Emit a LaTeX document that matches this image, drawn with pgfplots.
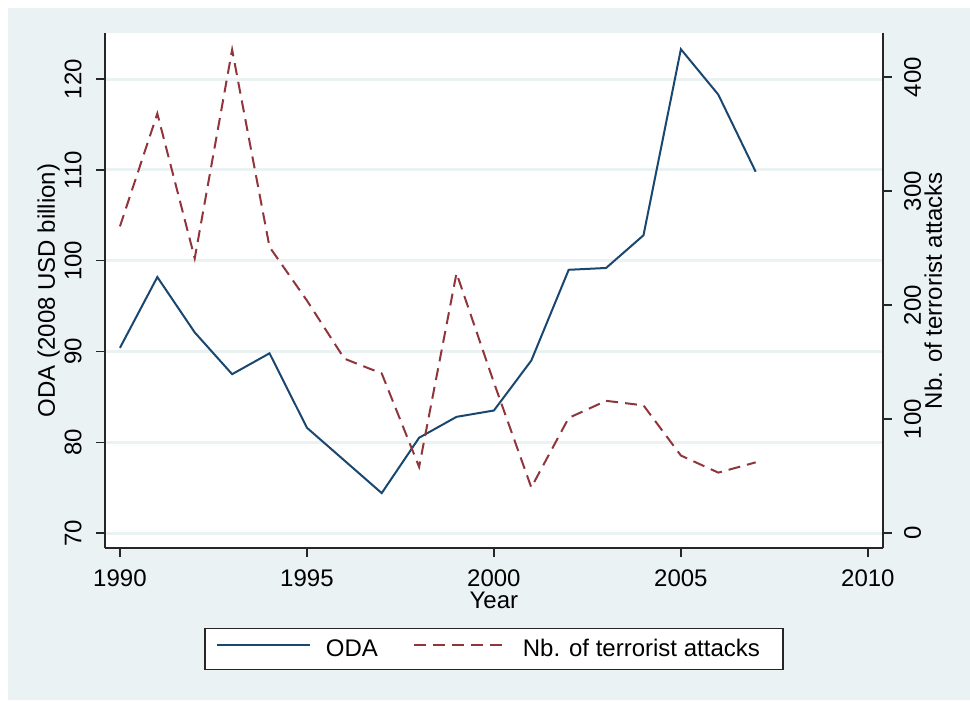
\documentclass[border=0pt]{standalone}
\usepackage{fontspec}
\setmainfont{Liberation Sans}
\usepackage{pgfplots}
\pgfplotsset{compat=1.18}
\definecolor{bgc}{RGB}{234,242,243}
\definecolor{gridc}{RGB}{234,242,243}
\definecolor{odac}{RGB}{26,71,111}
\definecolor{terc}{RGB}{144,53,59}
\begin{document}
\fontsize{13.66}{16}\selectfont
\begin{tikzpicture}
\begin{scope}[x=0.02cm,y=0.02cm]
\useasboundingbox (0,0) rectangle (970,700);
\fill[white] (0,0) rectangle (970,700);
\fill[bgc] (8,0) rectangle (970,692);
\end{scope}
\pgfplotsset{
  common/.style={
    at={(2.10cm,3.04cm)}, anchor=south west,
    width=15.56cm, height=10.30cm, scale only axis,
    xmin=1989.6, xmax=2010.4,
    axis line style={-, line width=0.8pt, black!85},
    tick style={line width=0.8pt, black!85},
    tick align=outside, major tick length=0.18cm,
    /pgf/number format/assume math mode=true,
    /pgf/number format/1000 sep={},
    tick label style={font=\fontsize{13.66}{16}\selectfont},
    label style={font=\fontsize{13.66}{16}\selectfont},
  }
}
\begin{axis}[common,
  ymin=68.35, ymax=125.07,
  axis x line*=bottom, axis y line*=left,
  xtick={1990,1995,2000,2005,2010}, ytick={70,80,90,100,110,120},
  ymajorgrids, grid style={line width=0.06cm, gridc},
  axis background/.style={fill=white},
  yticklabel style={rotate=90, anchor=south, inner sep=0pt},
  yticklabel shift=0.28cm,
  xticklabel style={anchor=north, inner sep=0pt},
  xticklabel shift=0.24cm,
  xlabel={Year},
  xlabel style={at={(axis description cs:0.5,-0.1165)}, anchor=base, inner sep=0pt},
  ylabel={ODA (2008 USD billion)},
  ylabel style={at={(axis description cs:-0.0643,0.5)}, anchor=base, inner sep=0pt},
]
\addplot[odac, line width=0.04cm] coordinates {
(1990,90.4) (1991,98.2) (1992,92.1) (1993,87.5) (1994,89.8) (1995,81.6)
(1996,78.0) (1997,74.4) (1998,80.5) (1999,82.8) (2000,83.5) (2001,89.0)
(2002,99.0) (2003,99.2) (2004,102.8) (2005,123.3) (2006,118.3) (2007,109.8)};
\end{axis}
\begin{axis}[common,
  ymin=-13.16, ymax=438.6,
  axis x line=none, axis y line*=right,
  ytick={0,100,200,300,400},
  yticklabel style={rotate=90, anchor=north, inner sep=0pt},
  yticklabel shift=0.24cm,
  ylabel={Nb. of terrorist attacks},
  ylabel style={at={(axis description cs:1.0758,0.5)}, anchor=base, inner sep=0pt},
  legend columns=2,
  legend style={at={(axis description cs:0.5,-0.1553)}, anchor=north,
    draw=black!85, line width=0.8pt, fill=white,
    inner xsep=0.22cm, inner ysep=0.2cm,
    font=\fontsize{13.66}{16}\selectfont,
    nodes={inner sep=0pt, anchor=base},
    /tikz/every odd column/.append style={column sep=0.30cm}},
  legend image code/.code={\draw[#1] (0cm,0.22cm) -- (1.86cm,0.22cm);},
]
\addlegendimage{odac, line width=0.04cm}
\addlegendentry{\makebox[1.74cm][l]{ODA}}
\addplot[terc, line width=0.04cm, dash pattern=on 0.24cm off 0.14cm] coordinates {
(1990,269) (1991,368) (1992,241) (1993,424) (1994,251) (1995,204)
(1996,153) (1997,140) (1998,58) (1999,228) (2000,132) (2001,40)
(2002,101) (2003,116) (2004,112) (2005,68) (2006,53) (2007,62)};
\addlegendentry{\makebox[4.98cm][l]{Nb. of terrorist attacks}}
\end{axis}
\end{tikzpicture}
\end{document}
